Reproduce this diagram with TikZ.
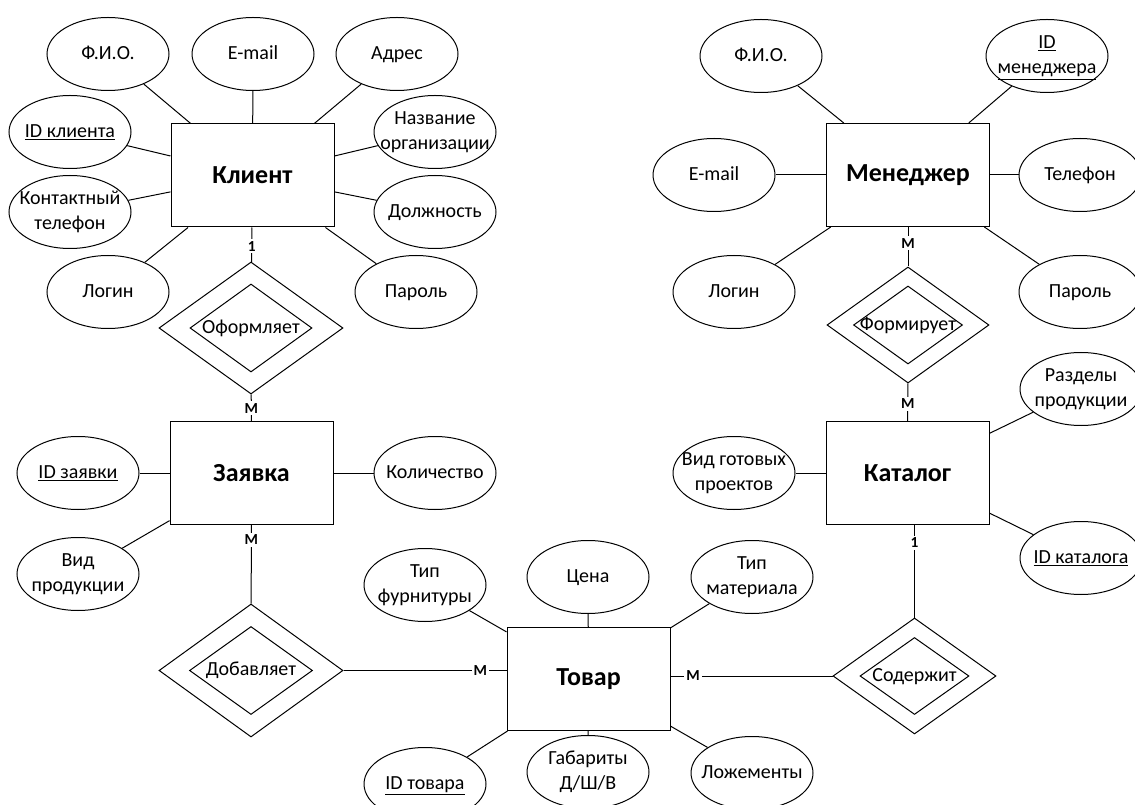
\documentclass[tikz,border=0pt]{standalone}
\usepackage{fontspec}
\setmainfont{Carlito}
\usetikzlibrary{shapes.geometric}
% zero-width centred line with a strut, so that long labels may overrun their shape
\newcommand\zw[1]{\makebox[0pt]{\strut#1}}
\begin{document}
\begin{tikzpicture}[x=0.75pt,y=-0.75pt,line width=0.75pt,
  attr/.style={ellipse,draw,inner sep=0pt,minimum width=91.5pt,minimum height=54.75pt,
    align=center,font=\fontsize{15}{19}\selectfont},
  ent/.style={rectangle,draw,inner sep=0pt,minimum width=122.25pt,minimum height=77.25pt,
    font=\fontsize{19.5}{23}\selectfont\bfseries},
  rel/.style={diamond,draw,inner sep=0pt,font=\fontsize{15}{19}\selectfont},
  relin/.style={diamond,draw,inner sep=0pt},
  card/.style={fill=white,inner sep=1.5pt,font=\fontsize{11.5}{13}\selectfont\bfseries}]
\useasboundingbox (0,0) rectangle (1135,805);
\clip (0,0) rectangle (1135,805);

% ---------- entities ----------
\node[ent] (klient)   at (252.5,175.5) {Клиент};
\node[ent] (zayavka)  at (251.5,473)   {Заявка};
\node[ent] (manager)  at (908,175)     {Менеджер};
\node[ent] (katalog)  at (907.5,473)   {Каталог};
\node[ent] (tovar)    at (588.5,679)   {Товар};

% ---------- relationships ----------
\node[rel,minimum width=138pt,minimum height=99pt] (ofo) at (251,328) {\zw{Оформляет}};
\node[relin,minimum width=91.5pt,minimum height=66pt] (ofoin) at (ofo.center) {};
\node[rel,minimum width=121.5pt,minimum height=87pt] (form) at (908,325) {\zw{Формирует}};
\node[relin,minimum width=81.75pt,minimum height=58.5pt] (formin) at (form.center) {};
\node[rel,minimum width=138pt,minimum height=99.75pt] (dob) at (251,670.5) {\zw{Добавляет}};
\node[relin,minimum width=92.25pt,minimum height=66pt] (dobin) at (dob.center) {};
\node[rel,minimum width=122.25pt,minimum height=87pt] (sod) at (914.5,676) {\zw{Содержит}};
\node[relin,minimum width=81.75pt,minimum height=57.75pt] (sodin) at (sod.center) {};

% ---------- attributes of Клиент ----------
\node[attr] (fio1)   at (108,54)  {\zw{Ф.И.О.}};
\node[attr] (email1) at (253,54)  {\zw{E-mail}};
\node[attr] (adres)  at (397,54)  {\zw{Адрес}};
\node[attr] (idk)    at (70,132)  {\zw{\underline{ID клиента}}};
\node[attr] (nazv)   at (435,132) {\zw{Название}\\\zw{организации}};
\node[attr] (kont)   at (70,212)  {\zw{Контактный}\\\zw{телефон}};
\node[attr] (dolzh)  at (435,212) {\zw{Должность}};
\node[attr] (login1) at (108,292) {\zw{Логин}};
\node[attr] (parol1) at (416,292) {\zw{Пароль}};

% ---------- attributes of Менеджер ----------
\node[attr] (fio2)   at (761,56)   {\zw{Ф.И.О.}};
\node[attr] (idm)    at (1047,56)  {\zw{\underline{ID}}\\\zw{\underline{менеджера}}};
\node[attr] (email2) at (714,175)  {\zw{E-mail}};
\node[attr] (tel)    at (1080,175) {\zw{Телефон}};
\node[attr] (login2) at (734,292)  {\zw{Логин}};
\node[attr] (parol2) at (1080,292) {\zw{Пароль}};

% ---------- attributes of Заявка ----------
\node[attr] (idz)  at (78,473)  {\zw{\underline{ID заявки}}};
\node[attr] (kol)  at (435,473) {\zw{Количество}};
\node[attr] (vid)  at (78,574)  {\zw{Вид}\\\zw{продукции}};

% ---------- attributes of Каталог ----------
\node[attr] (razd)   at (1081,389) {\zw{Разделы}\\\zw{продукции}};
\node[attr] (vidgot) at (734,473)  {\zw{Вид готовых}\\\zw{проектов}};
\node[attr] (idkat)  at (1081,558) {\zw{\underline{ID каталога}}};

% ---------- attributes of Товар ----------
\node[attr] (tipf) at (425,585) {\zw{Тип}\\\zw{фурнитуры}};
\node[attr] (cena) at (588,577) {\zw{Цена}};
\node[attr] (tipm) at (752,577) {\zw{Тип}\\\zw{материала}};
\node[attr] (idt)  at (425,784) {\zw{\underline{ID товара}}};
\node[attr] (gab)  at (588,772) {\zw{Габариты}\\\zw{Д/Ш/В}};
\node[attr] (lozh) at (752,773) {\zw{Ложементы}};

% ---------- attribute links ----------
\foreach \a in {fio1,email1,adres,idk,nazv,kont,dolzh,login1,parol1}
  \draw (\a) -- (klient);
\foreach \a in {fio2,idm,email2,tel,login2,parol2}
  \draw (\a) -- (manager);
\foreach \a in {idz,kol,vid}
  \draw (\a) -- (zayavka);
\foreach \a in {razd,vidgot,idkat}
  \draw (\a) -- (katalog);
\foreach \a in {tipf,cena,tipm,idt,gab,lozh}
  \draw (\a) -- (tovar);

% ---------- relationship links with cardinalities ----------
\draw (klient) -- node[card,pos=0.54] {1} (ofo);
\draw (ofo) -- node[card,pos=0.52] {М} (zayavka);
\draw (zayavka) -- node[card,pos=0.19] {М} (dob);
\draw (dob.east) -- node[card,pos=0.84] {М} (dob.east -| tovar.west);
\draw (manager) -- node[card,pos=0.41] {М} (form);
\draw (form) -- node[card,pos=0.54] {М} (katalog);
\draw (sod.north |- katalog.south) -- node[card,pos=0.19] {1} (sod.north);
\draw (tovar.east |- sod.west) -- node[card,pos=0.14] {М} (sod.west);
\end{tikzpicture}
\end{document}
